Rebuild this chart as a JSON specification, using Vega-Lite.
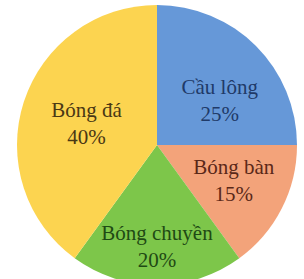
{
  "$schema": "https://vega.github.io/schema/vega-lite/v6.json",
  "width": 294,
  "height": 264,
  "autosize": "none",
  "padding": {"left": 10, "top": 13, "right": 0, "bottom": 2},
  "background": "white",
  "config": {"view": {"stroke": null}},
  "data": {
    "values": [
      {"sport": "Cầu lông", "value": 25, "k": 1},
      {"sport": "Bóng bàn", "value": 15, "k": 2},
      {"sport": "Bóng chuyền", "value": 20, "k": 3},
      {"sport": "Bóng đá", "value": 40, "k": 4}
    ]
  },
  "transform": [
    {"stack": "value", "groupby": [], "sort": [{"field": "k"}], "as": ["v0", "v1"]},
    {"calculate": "(datum.v0 + datum.v1) / 2", "as": "mid"},
    {"calculate": "datum.sport + '\\n' + datum.value + '%'", "as": "lbl"}
  ],
  "layer": [
    {
      "mark": {"type": "arc", "radius": 140},
      "encoding": {
        "theta": {"field": "v0", "type": "quantitative", "scale": {"domain": [0, 100]}},
        "theta2": {"field": "v1"},
        "color": {
          "field": "sport", "type": "nominal", "legend": null,
          "scale": {
            "domain": ["Cầu lông", "Bóng bàn", "Bóng chuyền", "Bóng đá"],
            "range": ["#6698d8", "#f3a37a", "#7dc64a", "#fcd450"]
          }
        }
      }
    },
    {
      "transform": [{"filter": "datum.sport == 'Cầu lông'"}],
      "mark": {"type": "text", "radius": 76, "dx": 9, "dy": -3, "font": "Liberation Serif", "fontSize": 21, "lineHeight": 27, "lineBreak": "\n", "color": "#1f3a68", "align": "center", "baseline": "middle"},
      "encoding": {
        "theta": {"field": "mid", "type": "quantitative"},
        "text": {"field": "lbl"}
      }
    },
    {
      "transform": [{"filter": "datum.sport == 'Bóng bàn'"}],
      "mark": {"type": "text", "radius": 85, "dx": 1, "dy": -16, "font": "Liberation Serif", "fontSize": 21, "lineHeight": 27, "lineBreak": "\n", "color": "#5a2818", "align": "center", "baseline": "middle"},
      "encoding": {
        "theta": {"field": "mid", "type": "quantitative"},
        "text": {"field": "lbl"}
      }
    },
    {
      "transform": [{"filter": "datum.sport == 'Bóng chuyền'"}],
      "mark": {"type": "text", "radius": 102, "dy": -13, "font": "Liberation Serif", "fontSize": 21, "lineHeight": 27, "lineBreak": "\n", "color": "#1f4a14", "align": "center", "baseline": "middle"},
      "encoding": {
        "theta": {"field": "mid", "type": "quantitative"},
        "text": {"field": "lbl"}
      }
    },
    {
      "transform": [{"filter": "datum.sport == 'Bóng đá'"}],
      "mark": {"type": "text", "radius": 74, "dy": -11, "font": "Liberation Serif", "fontSize": 21, "lineHeight": 27, "lineBreak": "\n", "color": "#4a3814", "align": "center", "baseline": "middle"},
      "encoding": {
        "theta": {"field": "mid", "type": "quantitative"},
        "text": {"field": "lbl"}
      }
    }
  ]
}
